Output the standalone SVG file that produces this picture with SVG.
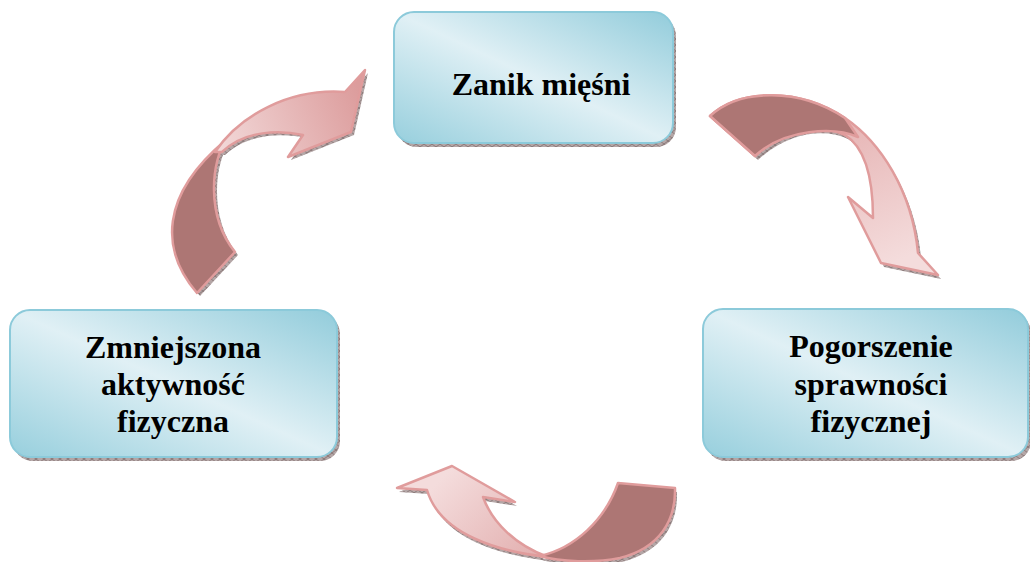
<svg xmlns="http://www.w3.org/2000/svg" width="1030" height="562" viewBox="0 0 1030 562">
<style>
.box{fill:url(#boxg);stroke:#8ccada;stroke-width:2}
.bsh{fill:url(#hatch)}
.lbl{font-family:"Liberation Serif","Tinos","Noto Serif","DejaVu Serif","FreeSerif","Nimbus Roman","Nimbus Roman No9 L","Times New Roman",Times,serif;font-weight:bold;font-size:32px;fill:#000;text-anchor:middle}
.dark{fill:#ad7674;stroke:#e09c9c;stroke-width:2.5;stroke-linejoin:round}
.ash{fill:url(#hatch)}
.lt{stroke:#e09c9c;stroke-width:2.5;stroke-linejoin:round}
</style>
<defs>
<pattern id="hatch" width="8" height="6" patternUnits="userSpaceOnUse">
<rect width="8" height="6" fill="#b4a6a6"/>
<path d="M0,0L8,6M8,0L0,6" stroke="#6e5a5a" stroke-width="0.6"/>
</pattern>
<linearGradient id="boxg" x1="0" y1="1" x2="1" y2="0">
<stop offset="0" stop-color="#97cfdd"/>
<stop offset="0.5" stop-color="#e0f0f5"/>
<stop offset="1" stop-color="#92ccdb"/>
</linearGradient>
<linearGradient id="g1" x1="840" y1="120" x2="900" y2="260" gradientUnits="userSpaceOnUse">
<stop offset="0" stop-color="#e6b4b4"/>
<stop offset="1" stop-color="#f4dcdc"/>
</linearGradient>
<linearGradient id="g2" x1="450" y1="470" x2="540" y2="560" gradientUnits="userSpaceOnUse">
<stop offset="0" stop-color="#f4dcdc"/>
<stop offset="1" stop-color="#e2aeae"/>
</linearGradient>
<linearGradient id="g3" x1="220" y1="150" x2="360" y2="90" gradientUnits="userSpaceOnUse">
<stop offset="0" stop-color="#f2d8d8"/>
<stop offset="1" stop-color="#dc9c9c"/>
</linearGradient>
</defs>

<g id="connectors">
<g id="arrow-top-right">
<g transform="translate(3,4)" class="ash">
<path d="M710,116 C740,88 800,88 845,118 C880,142 912,190 918,253 L938,275 L881,263 L848,197 L873,218 C873,180 866,148 845,135 C822,124 785,128 755,156 Z"/>
</g>
<path class="lt" fill="url(#g1)" d="M710,116 C740,88 800,88 845,118 C880,142 912,190 918,253 L938,275 L881,263 L848,197 L873,218 C873,180 866,148 845,135 C822,124 785,128 755,156 Z"/>
<path class="dark" d="M710,116 C740,88 800,88 845,118 L858,137 C835,127 785,128 755,156 Z"/>
</g>
<g id="arrow-bottom">
<g transform="translate(2,4)" class="ash">
<path d="M452,466 L515,502 L483,497 C492,522 515,545 548,557 C500,552 440,535 427,490 L397,488 Z"/>
<path d="M618,483 L675,488 C676,520 660,548 620,558 C595,563 560,562 540,556 C575,548 605,520 618,483 Z"/>
</g>
<path class="lt" fill="url(#g2)" d="M452,466 L515,502 L483,497 C492,522 515,545 548,557 C500,552 440,535 427,490 L397,488 Z"/>
<path class="dark" d="M618,483 L675,488 C676,520 660,548 620,558 C595,563 560,562 540,556 C575,548 605,520 618,483 Z"/>
</g>
<g id="arrow-left">
<g transform="translate(3,3)" class="ash">
<path d="M197,293 C160,250 160,195 226,140 C212,160 205,215 235,252 Z"/>
<path d="M215,152 C240,115 290,88 345,92 L365,70 L351,132 L288,157 L303,135 C280,130 245,130 222,152 Z"/>
</g>
<path class="dark" d="M197,293 C160,250 160,195 226,140 C212,160 205,215 235,252 Z"/>
<path class="lt" fill="url(#g3)" d="M215,152 C240,115 290,88 345,92 L365,70 L351,132 L288,157 L303,135 C280,130 245,130 222,152 Z"/>
</g>
</g>

<g id="node-top">
<rect class="bsh" x="397" y="16" width="279" height="131" rx="20"/>
<rect class="box" x="394" y="12" width="279" height="131" rx="20"/>
<text class="lbl" x="541" y="95">Zanik mięśni</text>
</g>
<g id="node-left">
<rect class="bsh" x="13" y="314" width="327" height="147" rx="20"/>
<rect class="box" x="10" y="310" width="327" height="147" rx="20"/>
<text class="lbl" x="173" y="358">Zmniejszona</text>
<text class="lbl" x="173" y="395">aktywność</text>
<text class="lbl" x="173" y="432">fizyczna</text>
</g>
<g id="node-right">
<rect class="bsh" x="706" y="313" width="325" height="148" rx="20"/>
<rect class="box" x="703" y="309" width="325" height="148" rx="20"/>
<text class="lbl" x="871" y="357">Pogorszenie</text>
<text class="lbl" x="871" y="395">sprawności</text>
<text class="lbl" x="871" y="432">fizycznej</text>
</g>
</svg>
